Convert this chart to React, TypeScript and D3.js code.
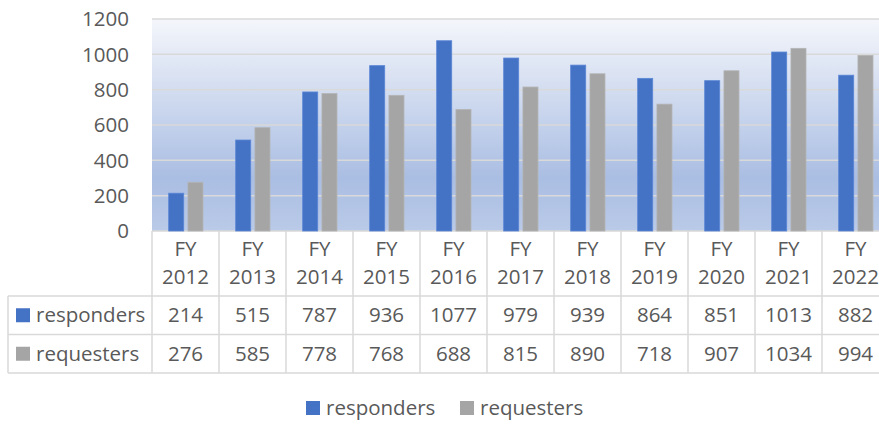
import React from 'react';
import * as d3 from 'd3';

const categories = ['2012', '2013', '2014', '2015', '2016', '2017', '2018', '2019', '2020', '2021', '2022'];
const responders = [214, 515, 787, 936, 1077, 979, 939, 864, 851, 1013, 882];
const requesters = [276, 585, 778, 768, 688, 815, 890, 718, 907, 1034, 994];
const yTicks = [0, 200, 400, 600, 800, 1000, 1200];

const series = [
    { name: 'responders', values: responders, color: '#4472C4', stroke: '#5B86D6' },
    { name: 'requesters', values: requesters, color: '#A5A5A5', stroke: '#B4B4B4' }
];

const W = 879, H = 424;
const FONT = '"Open Sans", sans-serif';
const FS = 20.5;
const TEXT = '#595959';
const GRID = '#D9D9D9';

export default function App() {
    // plot area
    const left = 152, top = 19, bottom = 231;
    const colW = 67;

    const x = d3.scaleBand<string>()
        .domain(categories)
        .range([left, left + colW * categories.length]);

    const xs = d3.scaleBand<string>()
        .domain(series.map(s => s.name))
        .range([colW * 0.249, colW * 0.761])
        .paddingInner(0.22);

    const y = d3.scaleLinear().domain([0, 1200]).range([bottom, top]);

    const right = left + colW * categories.length;

    // data table rows
    const headerBottom = 296;
    const rowH = 38.5;
    const tableLeft = 8;

    return (
        <svg width={W} height={H} style={{ display: 'block', background: '#fff' }}>
            <defs>
                <linearGradient id="bg" x1="0" y1="0" x2="0" y2="1">
                    <stop offset="0%" stopColor="#F4F6FB" />
                    <stop offset="75%" stopColor="#AABEE3" />
                    <stop offset="100%" stopColor="#BACAE8" />
                </linearGradient>
            </defs>
            <style>{`body{margin:0}`}</style>

            {/* plot background */}
            <rect x={left} y={top} width={right - left} height={bottom - top} fill="url(#bg)" />

            {/* gridlines */}
            {yTicks.map(t => (
                <line key={t} x1={left} x2={right} y1={y(t)} y2={y(t)} stroke={GRID} strokeWidth={1.5} />
            ))}

            {/* y axis labels */}
            {yTicks.map(t => (
                <text key={'l' + t} x={129} y={y(t)} dy="0.35em" textAnchor="end"
                      fontFamily={FONT} fontSize={FS} fill={TEXT}>{t}</text>
            ))}

            {/* bars */}
            {categories.map((c, i) => (
                <g key={c} transform={`translate(${x(c)},0)`}>
                    {series.map(s => (
                        <rect key={s.name}
                              x={xs(s.name)}
                              y={y(s.values[i])}
                              width={xs.bandwidth()}
                              height={bottom - y(s.values[i])}
                              fill={s.color}
                              stroke={s.stroke}
                              strokeWidth={0.8} />
                    ))}
                </g>
            ))}

            {/* data table: column lines */}
            {categories.concat(['end']).map((c, i) => {
                const xx = left + i * colW;
                return <line key={'v' + i} x1={xx} x2={xx} y1={bottom} y2={headerBottom + rowH * 2}
                             stroke={GRID} strokeWidth={1.5} />;
            })}
            <line x1={tableLeft} x2={tableLeft} y1={headerBottom} y2={headerBottom + rowH * 2} stroke={GRID} strokeWidth={1.5} />
            {[0, 1, 2].map(r => (
                <line key={'h' + r} x1={tableLeft} x2={right}
                      y1={headerBottom + r * rowH} y2={headerBottom + r * rowH}
                      stroke={GRID} strokeWidth={1.5} />
            ))}

            {/* header text */}
            {categories.map(c => (
                <g key={'hd' + c} fontFamily={FONT} fontSize={FS} fill={TEXT} textAnchor="middle">
                    <text x={(x(c) as number) + colW / 2} y={249} dy="0.35em">FY</text>
                    <text x={(x(c) as number) + colW / 2} y={277} dy="0.35em">{c}</text>
                </g>
            ))}

            {/* table rows */}
            {series.map((s, r) => {
                const cy = headerBottom + r * rowH + rowH / 2;
                return (
                    <g key={'row' + s.name} fontFamily={FONT} fontSize={FS} fill={TEXT}>
                        <rect x={16} y={cy - 7} width={14} height={14} fill={s.color} />
                        <text x={36} y={cy} dy="0.35em">{s.name}</text>
                        {s.values.map((v, i) => (
                            <text key={i} x={(x(categories[i]) as number) + colW / 2} y={cy} dy="0.35em"
                                  textAnchor="middle">{v}</text>
                        ))}
                    </g>
                );
            })}

            {/* legend */}
            <g fontFamily={FONT} fontSize={FS} fill={TEXT}>
                <rect x={306} y={401} width={14} height={14} fill={series[0].color} />
                <text x={326} y={408} dy="0.35em">responders</text>
                <rect x={460} y={401} width={14} height={14} fill={series[1].color} />
                <text x={480} y={408} dy="0.35em">requesters</text>
            </g>
        </svg>
    );
}
